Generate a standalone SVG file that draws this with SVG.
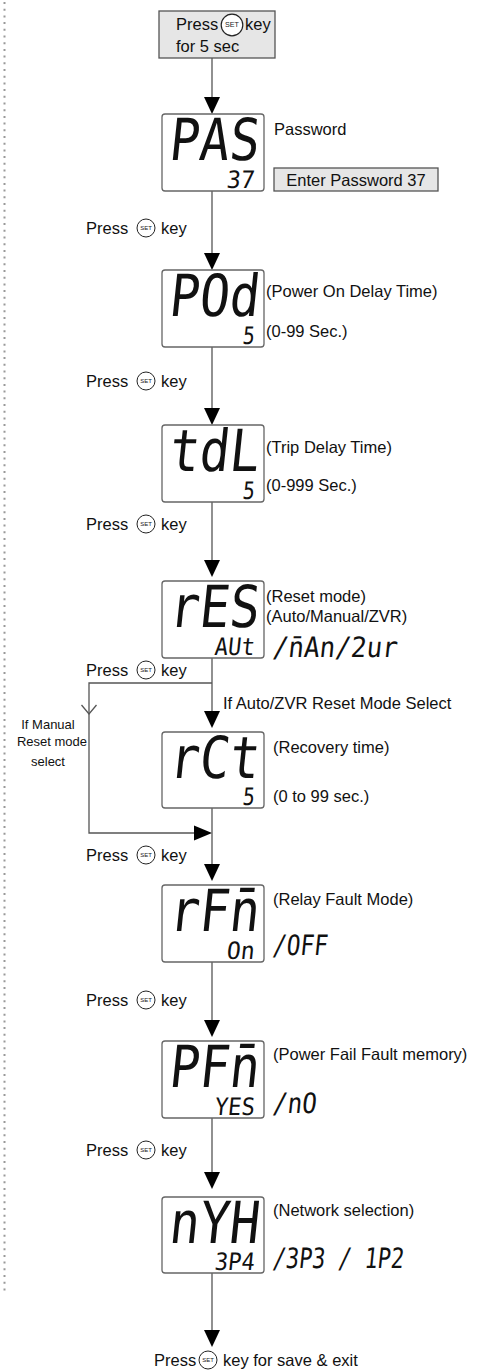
<svg xmlns="http://www.w3.org/2000/svg" width="490" height="1371" viewBox="0 0 490 1371">
<style>
.lbl{font-family:"Liberation Sans",Arial,sans-serif;font-size:16.5px;fill:#111}
.sm{font-family:"Liberation Sans",Arial,sans-serif;font-size:13px;fill:#111}
.box{fill:#fff;stroke:#666;stroke-width:1.3}
.gbox{fill:#e6e6e6;stroke:#555;stroke-width:1.3}
.seg{font-family:"DejaVu Sans Mono",monospace;fill:#111}
.key{fill:#fff;stroke:#222;stroke-width:1}
.keyt{font-family:"Liberation Sans",Arial,sans-serif;font-size:6px;fill:#222;text-anchor:middle}
.ln{fill:none;stroke:#555;stroke-width:1.3}
</style>
<defs>
<g id="setkey"><circle class="key" cx="0" cy="0" r="9"/><text class="keyt" x="0" y="2">SET</text></g>
</defs>
<line x1="4.5" y1="2" x2="4.5" y2="1292" stroke="#999" stroke-width="2" stroke-dasharray="2 4.7"/>
<g id="connectors">
<line class="ln" x1="212" y1="58" x2="212" y2="97"/><path d="M204,97 L220,97 L212,114 Z"/>
<line class="ln" x1="212" y1="191" x2="212" y2="253"/><path d="M204,253 L220,253 L212,270 Z"/>
<line class="ln" x1="212" y1="347" x2="212" y2="408"/><path d="M204,408 L220,408 L212,425 Z"/>
<line class="ln" x1="212" y1="502" x2="212" y2="560"/><path d="M204,560 L220,560 L212,577 Z"/>
<line class="ln" x1="212" y1="658" x2="212" y2="711"/><path d="M204,711 L220,711 L212,728 Z"/>
<polyline class="ln" points="212,683 89,683 89,833 194,833"/>
<polyline class="ln" points="81.5,705 89,714 96.5,705"/>
<path d="M194,825.5 L194,840.5 L212,833 Z"/>
<line class="ln" x1="212" y1="808" x2="212" y2="864"/><path d="M204,864 L220,864 L212,881 Z"/>
<line class="ln" x1="212" y1="962" x2="212" y2="1020"/><path d="M204,1020 L220,1020 L212,1037 Z"/>
<line class="ln" x1="212" y1="1118" x2="212" y2="1172"/><path d="M204,1172 L220,1172 L212,1189 Z"/>
<line class="ln" x1="212" y1="1273" x2="212" y2="1330"/><path d="M204,1330 L220,1330 L212,1347 Z"/>
</g>
<g id="start">
<rect class="gbox" x="159" y="11" width="116" height="47"/>
<text class="lbl" x="176" y="30">Press</text>
<use href="#setkey" transform="translate(232,25) scale(1.2)"/>
<text class="lbl" x="245" y="30">key</text>
<text class="lbl" x="176" y="52">for 5 sec</text>
</g>
<g id="pas">
<rect class="box" x="162" y="114" width="102" height="77" rx="3"/>
<text class="seg" font-size="58" textLength="90" lengthAdjust="spacingAndGlyphs" transform="translate(168,160) skewX(-6)">PAS</text>
<text class="seg" font-size="24" textLength="28" lengthAdjust="spacingAndGlyphs" transform="translate(226,188) skewX(-6)">37</text>
<text class="lbl" x="274" y="135">Password</text>
<rect class="gbox" x="274" y="168" width="164" height="23"/>
<text class="lbl" x="356" y="186" text-anchor="middle">Enter Password 37</text>
</g>
<g id="lbl1"><text class="lbl" x="86" y="234">Press</text><use href="#setkey" transform="translate(146,228)"/><text class="lbl" x="161" y="234">key</text></g>
<g id="pod">
<rect class="box" x="162" y="270" width="102" height="77" rx="3"/>
<text class="seg" font-size="58" textLength="90" lengthAdjust="spacingAndGlyphs" transform="translate(168,316) skewX(-6)">POd</text>
<text class="seg" font-size="24" textLength="12" lengthAdjust="spacingAndGlyphs" transform="translate(242,344) skewX(-6)">5</text>
<text class="lbl" x="266" y="297">(Power On Delay Time)</text>
<text class="lbl" x="266" y="337">(0-99 Sec.)</text>
</g>
<g id="lbl2"><text class="lbl" x="86" y="387">Press</text><use href="#setkey" transform="translate(146,381)"/><text class="lbl" x="161" y="387">key</text></g>
<g id="tdl">
<rect class="box" x="162" y="425" width="102" height="77" rx="3"/>
<text class="seg" font-size="58" textLength="90" lengthAdjust="spacingAndGlyphs" transform="translate(168,471) skewX(-6)">tdL</text>
<text class="seg" font-size="24" textLength="12" lengthAdjust="spacingAndGlyphs" transform="translate(242,499) skewX(-6)">5</text>
<text class="lbl" x="266" y="453">(Trip Delay Time)</text>
<text class="lbl" x="266" y="491">(0-999 Sec.)</text>
</g>
<g id="lbl3"><text class="lbl" x="86" y="530">Press</text><use href="#setkey" transform="translate(146,524)"/><text class="lbl" x="161" y="530">key</text></g>
<g id="res">
<rect class="box" x="162" y="581" width="102" height="77" rx="3"/>
<text class="seg" font-size="58" textLength="90" lengthAdjust="spacingAndGlyphs" transform="translate(168,627) skewX(-6)">rES</text>
<text class="seg" font-size="24" textLength="40" lengthAdjust="spacingAndGlyphs" transform="translate(214,655) skewX(-6)">AUt</text>
<text class="lbl" x="266" y="602">(Reset mode)</text>
<text class="lbl" x="266" y="622">(Auto/Manual/ZVR)</text>
<text class="seg" font-size="28" textLength="125" lengthAdjust="spacingAndGlyphs" transform="translate(272,657) skewX(-6)">/n̄An/2ur</text>
</g>
<g id="lbl4"><text class="lbl" x="86" y="676">Press</text><use href="#setkey" transform="translate(146,670)"/><text class="lbl" x="161" y="676">key</text></g>
<g id="branch-labels">
<text class="lbl" x="223" y="709">If Auto/ZVR Reset Mode Select</text>
<text class="sm" x="48" y="729" text-anchor="middle">If Manual</text>
<text class="sm" x="52" y="746" text-anchor="middle">Reset mode</text>
<text class="sm" x="48" y="766" text-anchor="middle">select</text>
</g>
<g id="rct">
<rect class="box" x="162" y="732" width="102" height="76" rx="3"/>
<text class="seg" font-size="58" textLength="90" lengthAdjust="spacingAndGlyphs" transform="translate(168,778) skewX(-6)">rCt</text>
<text class="seg" font-size="24" textLength="12" lengthAdjust="spacingAndGlyphs" transform="translate(242,805) skewX(-6)">5</text>
<text class="lbl" x="273" y="753">(Recovery time)</text>
<text class="lbl" x="273" y="802">(0 to 99 sec.)</text>
</g>
<g id="lbl5"><text class="lbl" x="86" y="861">Press</text><use href="#setkey" transform="translate(146,855)"/><text class="lbl" x="161" y="861">key</text></g>
<g id="rfm">
<rect class="box" x="162" y="885" width="102" height="77" rx="3"/>
<text class="seg" font-size="58" textLength="90" lengthAdjust="spacingAndGlyphs" transform="translate(168,931) skewX(-6)">rFn̄</text>
<text class="seg" font-size="24" textLength="28" lengthAdjust="spacingAndGlyphs" transform="translate(226,959) skewX(-6)">On</text>
<text class="lbl" x="273" y="905">(Relay Fault Mode)</text>
<text class="seg" font-size="28" textLength="55" lengthAdjust="spacingAndGlyphs" transform="translate(272,955) skewX(-6)">/OFF</text>
</g>
<g id="lbl6"><text class="lbl" x="86" y="1006">Press</text><use href="#setkey" transform="translate(146,1000)"/><text class="lbl" x="161" y="1006">key</text></g>
<g id="pfm">
<rect class="box" x="162" y="1041" width="102" height="77" rx="3"/>
<text class="seg" font-size="58" textLength="90" lengthAdjust="spacingAndGlyphs" transform="translate(168,1087) skewX(-6)">PFn̄</text>
<text class="seg" font-size="24" textLength="40" lengthAdjust="spacingAndGlyphs" transform="translate(214,1115) skewX(-6)">YES</text>
<text class="lbl" x="273" y="1060">(Power Fail Fault memory)</text>
<text class="seg" font-size="28" textLength="44" lengthAdjust="spacingAndGlyphs" transform="translate(272,1113) skewX(-6)">/nO</text>
</g>
<g id="lbl7"><text class="lbl" x="86" y="1156">Press</text><use href="#setkey" transform="translate(146,1150)"/><text class="lbl" x="161" y="1156">key</text></g>
<g id="nyh">
<rect class="box" x="162" y="1197" width="102" height="76" rx="3"/>
<text class="seg" font-size="58" textLength="90" lengthAdjust="spacingAndGlyphs" transform="translate(168,1243) skewX(-6)">nYH</text>
<text class="seg" font-size="24" textLength="40" lengthAdjust="spacingAndGlyphs" transform="translate(214,1270) skewX(-6)">3P4</text>
<text class="lbl" x="273" y="1216">(Network selection)</text>
<text class="seg" font-size="28" textLength="131" lengthAdjust="spacingAndGlyphs" transform="translate(272,1268) skewX(-6)">/3P3 / 1P2</text>
</g>
<g id="end"><text class="lbl" x="154" y="1366">Press</text><use href="#setkey" transform="translate(208,1360)"/><text class="lbl" x="223" y="1366">key for save &amp; exit</text></g>
</svg>
